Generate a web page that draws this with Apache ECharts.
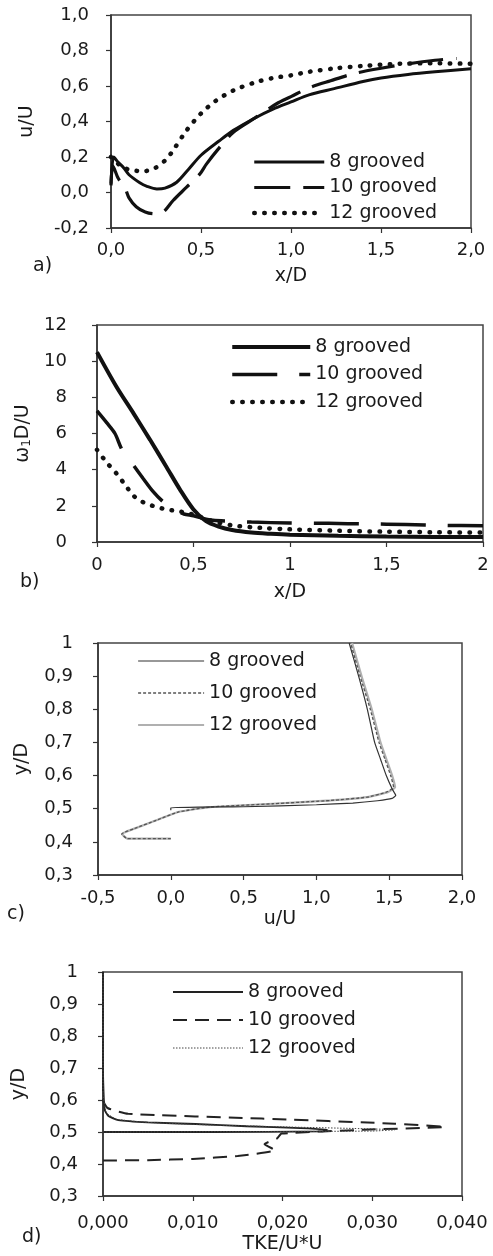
<!DOCTYPE html>
<html><head><meta charset="utf-8">
<script src="https://cdn.jsdelivr.net/npm/echarts@6/dist/echarts.min.js"></script>
<style>html,body{margin:0;padding:0;background:#fff}#c{width:493px;height:1256px}</style>
</head><body><div id="c"></div>
<script>
// ---------- data ----------
const seriesLabels = ['8 grooved', '10 grooved', '12 grooved'];

// Panel a) u/U vs x/D
const aTicksX = ['0,0', '0,5', '1,0', '1,5', '2,0'];
const aTicksY = ['-0,2', '0,0', '0,2', '0,4', '0,6', '0,8', '1,0'];
const a8x  = [0, 0.015, 0.04, 0.07, 0.1, 0.16, 0.2, 0.255, 0.3, 0.365, 0.43, 0.5, 0.6, 0.68, 0.8, 0.9, 1.0, 1.1, 1.24, 1.4, 1.5, 1.65, 1.8, 2.0];
const a8y  = [0.05, 0.2, 0.17, 0.14, 0.1, 0.055, 0.035, 0.02, 0.025, 0.058, 0.13, 0.21, 0.29, 0.35, 0.42, 0.47, 0.51, 0.55, 0.585, 0.625, 0.645, 0.665, 0.68, 0.697];
const a10x = [0, 0.01, 0.04, 0.08, 0.1, 0.14, 0.19, 0.24, 0.29, 0.345, 0.42, 0.494, 0.53, 0.6, 0.68, 0.8, 0.92, 1.0, 1.1, 1.22, 1.35, 1.5, 1.65, 1.8, 1.92];
const a10y = [0.04, 0.15, 0.08, 0.02, -0.03, -0.08, -0.11, -0.12, -0.11, -0.045, 0.03, 0.105, 0.16, 0.25, 0.34, 0.42, 0.5, 0.54, 0.59, 0.63, 0.67, 0.7, 0.725, 0.745, 0.755];
const a12x = [0, 0.03, 0.07, 0.12, 0.18, 0.24, 0.3, 0.34, 0.42, 0.5, 0.58, 0.68, 0.8, 0.9, 1.0, 1.1, 1.25, 1.4, 1.6, 1.8, 2.0];
const a12y = [0.2, 0.17, 0.14, 0.125, 0.12, 0.135, 0.18, 0.23, 0.35, 0.445, 0.515, 0.575, 0.62, 0.645, 0.66, 0.68, 0.7, 0.713, 0.725, 0.728, 0.725];

// Panel b) vorticity vs x/D
const bTicksX = ['0', '0,5', '1', '1,5', '2'];
const bTicksY = ['0', '2', '4', '6', '8', '10', '12'];
const b8x  = [0, 0.1, 0.19, 0.275, 0.36, 0.43, 0.5, 0.565, 0.63, 0.7, 0.8, 0.9, 1.0, 1.25, 1.5, 1.75, 2.0];
const b8y  = [10.5, 8.6, 7.1, 5.65, 4.15, 2.9, 1.8, 1.15, 0.85, 0.66, 0.52, 0.45, 0.4, 0.34, 0.3, 0.28, 0.27];
const b10x = [0, 0.05, 0.093, 0.13, 0.185, 0.24, 0.29, 0.34, 0.395, 0.45, 0.5, 0.55, 0.6, 0.7, 0.8, 1.0, 1.2, 1.4, 1.6, 1.8, 2.0];
const b10y = [7.25, 6.6, 6.0, 5.1, 4.3, 3.5, 2.8, 2.25, 1.8, 1.55, 1.45, 1.3, 1.2, 1.15, 1.1, 1.05, 1.03, 1.0, 0.97, 0.92, 0.9];
const b12x = [0, 0.05, 0.1, 0.15, 0.19, 0.23, 0.275, 0.32, 0.36, 0.42, 0.47, 0.52, 0.6, 0.7, 0.85, 1.0, 1.25, 1.5, 1.75, 2.0];
const b12y = [5.1, 4.4, 3.8, 3.1, 2.55, 2.25, 2.05, 1.9, 1.8, 1.7, 1.6, 1.45, 1.15, 0.92, 0.78, 0.7, 0.62, 0.57, 0.54, 0.52];

// Panel c) y/D vs u/U
const cTicksX = ['-0,5', '0,0', '0,5', '1,0', '1,5', '2,0'];
const cTicksY = ['0,3', '0,4', '0,5', '0,6', '0,7', '0,8', '0,9', '1'];
const c8u  = [0.0, 0.0, 0.5, 1.0, 1.25, 1.42, 1.52, 1.545, 1.52, 1.48, 1.44, 1.40, 1.35, 1.29, 1.225];
const c8y  = [0.495, 0.503, 0.506, 0.512, 0.517, 0.524, 0.531, 0.54, 0.56, 0.6, 0.65, 0.7, 0.8, 0.9, 1.0];
const c10u = [0.0, -0.3, -0.337, -0.25, -0.1, 0.05, 0.27, 0.7, 1.1, 1.35, 1.48, 1.53, 1.51, 1.47, 1.43, 1.37, 1.30, 1.235];
const c10y = [0.41, 0.41, 0.424, 0.44, 0.465, 0.49, 0.505, 0.515, 0.525, 0.535, 0.55, 0.565, 0.6, 0.65, 0.7, 0.8, 0.9, 1.0];
const c12u = [0.0, -0.3, -0.335, -0.25, -0.1, 0.05, 0.27, 0.7, 1.1, 1.35, 1.49, 1.54, 1.52, 1.48, 1.44, 1.38, 1.31, 1.245];
const c12y = [0.41, 0.41, 0.424, 0.44, 0.465, 0.49, 0.505, 0.515, 0.525, 0.535, 0.55, 0.565, 0.6, 0.65, 0.7, 0.8, 0.9, 1.0];

// Panel d) y/D vs TKE
const dTicksX = ['0,000', '0,010', '0,020', '0,030', '0,040'];
const dTicksY = ['0,3', '0,4', '0,5', '0,6', '0,7', '0,8', '0,9', '1'];
const d8k  = [0, 0.012, 0.0245, 0.025, 0.022, 0.016, 0.0103, 0.005, 0.0017, 0.0006, 0.0002, 0.0001, 0, 0];
const d8y  = [0.5, 0.5, 0.502, 0.507, 0.512, 0.518, 0.525, 0.53, 0.537, 0.55, 0.568, 0.6, 0.7, 1.0];
const d10k = [0, 0.005, 0.01, 0.015, 0.0192, 0.018, 0.0194, 0.0199, 0.029, 0.0381, 0.0325, 0.0177, 0.0028, 0.0005, 0, 0];
const d10y = [0.411, 0.412, 0.416, 0.425, 0.443, 0.462, 0.48, 0.495, 0.507, 0.516, 0.526, 0.542, 0.557, 0.575, 0.6, 1.0];
const d12k = [0, 0.015, 0.03, 0.0325, 0.028, 0.02, 0.012, 0.005, 0.0015, 0.0004, 0, 0];
const d12y = [0.5, 0.501, 0.503, 0.507, 0.511, 0.516, 0.522, 0.53, 0.54, 0.56, 0.62, 1.0];

// ---------- helpers ----------
const FONT = 'DejaVu Sans';
const TXT = '#1a1a1a';
const zip = (xs, ys) => xs.map((x, i) => [x, ys[i]]);

function fmt(labels, min, interval) {
  return v => labels[Math.round((v - min) / interval)] ?? '';
}
function axis(gridIndex, min, max, interval, labels, name, nameGap, margin, extra) {
  return Object.assign({
    type: 'value', gridIndex, min, max, interval,
    name, nameLocation: 'middle', nameGap,
    nameTextStyle: { fontFamily: FONT, fontSize: 19, color: TXT },
    axisLine: { show: true, onZero: false, lineStyle: { color: '#333', width: 1.5 } },
    axisTick: { show: true, inside: false, length: 5, lineStyle: { color: '#333', width: 1.2 } },
    axisLabel: { margin, fontFamily: FONT, fontSize: 18, color: TXT, formatter: fmt(labels, min, interval) },
    splitLine: { show: false }
  }, extra || {});
}
function line(name, xi, data, color, width, type, cap, smooth, z) {
  return {
    type: 'line', name, xAxisIndex: xi, yAxisIndex: xi, data,
    symbol: 'none', smooth: smooth === undefined ? 0.3 : smooth,
    lineStyle: { color, width, type, cap: cap || 'butt' },
    itemStyle: { color },
    z: z || 2,
    emphasis: { disabled: true }, animation: false
  };
}
function legend(prefix, left, top, gap, itemWidth) {
  return {
    data: seriesLabels.map(s => prefix + ':' + s),
    orient: 'vertical', left, top, padding: 0, itemGap: gap,
    itemWidth, itemHeight: 14, selectedMode: false,
    itemStyle: { opacity: 0, borderWidth: 0 },
    lineStyle: { width: 'inherit', type: 'inherit', color: 'inherit', cap: 'inherit' },
    formatter: n => n.split(':')[1],
    textStyle: { fontFamily: FONT, fontSize: 19, color: TXT, lineHeight: 20 }
  };
}
const gridStyle = { show: true, borderColor: '#444', borderWidth: 1.5, backgroundColor: 'transparent' };

const option = {
  backgroundColor: '#fff',
  animation: false,
  grid: [
    Object.assign({ left: 111, top: 15, width: 360, height: 213 }, gridStyle),
    Object.assign({ left: 97, top: 325, width: 386, height: 217 }, gridStyle),
    Object.assign({ left: 98, top: 643, width: 364, height: 232 }, gridStyle),
    Object.assign({ left: 103, top: 972, width: 359, height: 224 }, gridStyle)
  ],
  xAxis: [
    axis(0, 0, 2, 0.5, aTicksX, 'x/D', 39, 13),
    axis(1, 0, 2, 0.5, bTicksX, 'x/D', 41, 14),
    axis(2, -0.5, 2, 0.5, cTicksX, 'u/U', 35, 14),
    axis(3, 0, 0.04, 0.01, dTicksX, 'TKE/U*U', 39, 18)
  ],
  yAxis: [
    axis(0, -0.2, 1.0, 0.2, aTicksY, 'u/U', 74, 22, { nameRotate: 90 }),
    axis(1, 0, 12, 2, bTicksY, '{a|ω}{s|1}{a|D/U}', 62, 30, {
      nameRotate: 90,
      nameTextStyle: { fontFamily: FONT, fontSize: 19, color: TXT,
        rich: { a: { fontFamily: FONT, fontSize: 19, color: TXT }, s: { fontFamily: FONT, fontSize: 12, color: TXT, padding: [8, 0, 0, 0] } } }
    }),
    axis(2, 0.3, 1.0, 0.1, cTicksY, 'y/D', 66, 25, { nameRotate: 90 }),
    axis(3, 0.3, 1.0, 0.1, dTicksY, 'y/D', 74, 25, { nameRotate: 90 })
  ],
  legend: [
    legend('a', 252, 152, 5.5, 70),
    legend('b', 230, 337, 7.5, 78),
    legend('c', 137, 651, 12, 66),
    legend('d', 172, 982, 8, 70)
  ],
  graphic: [
    { type: 'text', left: 33, top: 257, style: { text: 'a)', fontFamily: FONT, fontSize: 19, fill: TXT } },
    { type: 'text', left: 20, top: 573, style: { text: 'b)', fontFamily: FONT, fontSize: 19, fill: TXT } },
    { type: 'text', left: 7, top: 905, style: { text: 'c)', fontFamily: FONT, fontSize: 19, fill: TXT } },
    { type: 'text', left: 22, top: 1228, style: { text: 'd)', fontFamily: FONT, fontSize: 19, fill: TXT } }
  ],
  series: [
    line('a:8 grooved', 0, zip(a8x, a8y), '#111', 3, 'solid'),
    line('a:10 grooved', 0, zip(a10x, a10y), '#111', 3.2, [36, 13]),
    line('a:12 grooved', 0, zip(a12x, a12y), '#111', 4.5, [0.5, 9.5], 'round'),

    line('b:8 grooved', 1, zip(b8x, b8y), '#111', 4, 'solid'),
    line('b:10 grooved', 1, zip(b10x, b10y), '#111', 3.5, [45, 22]),
    line('b:12 grooved', 1, zip(b12x, b12y), '#111', 4.5, [0.5, 9.5], 'round'),

    line('c:8 grooved', 2, zip(c8u, c8y), '#333', 1.2, 'solid', 'butt', 0.15, 4),
    line('c:10 grooved', 2, zip(c10u, c10y), '#555', 1.3, [3, 2], 'butt', 0.15, 3),
    line('c:12 grooved', 2, zip(c12u, c12y), '#b0b0b0', 2.2, 'solid', 'butt', 0.15, 2),

    line('d:8 grooved', 3, zip(d8k, d8y), '#222', 1.8, 'solid', 'butt', 0.15),
    line('d:10 grooved', 3, zip(d10k, d10y), '#222', 2, [14, 8], 'butt', 0.15),
    line('d:12 grooved', 3, zip(d12k, d12y), '#444', 1, [1.5, 1.5], 'butt', 0.15)
  ]
};
const chart = echarts.init(document.getElementById('c'), null, { renderer: 'canvas' });
chart.setOption(option);
</script>
</body></html>
